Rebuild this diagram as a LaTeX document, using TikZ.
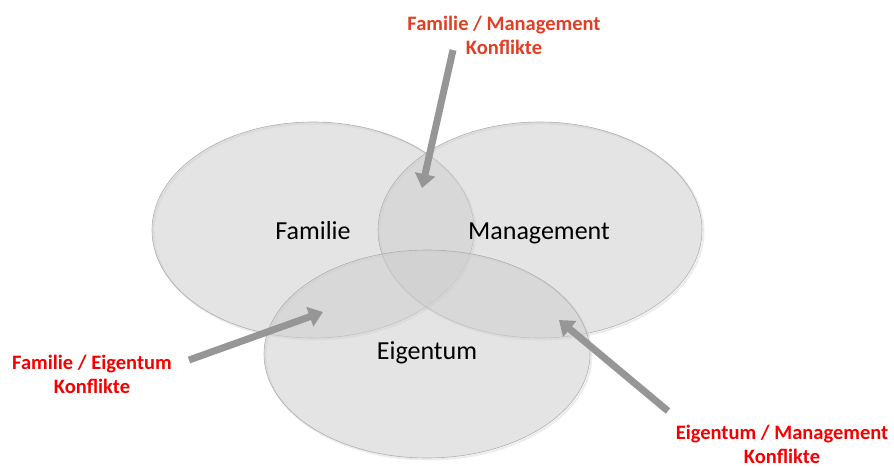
\documentclass[tikz,border=0pt]{standalone}
\usepackage{fontspec}
\setmainfont{Carlito}
\usetikzlibrary{shapes.geometric,arrows.meta}
\definecolor{circfill}{RGB}{206,206,206}
\definecolor{circedge}{RGB}{175,175,175}
\definecolor{arrowgray}{RGB}{150,150,150}
\definecolor{topred}{RGB}{226,62,36}
\definecolor{brightred}{RGB}{245,0,0}
\tikzset{
  setellipse/.style={ellipse, inner sep=0pt, fill=circfill, fill opacity=0.55, draw=circedge, line width=0.6pt},
  shadowellipse/.style={ellipse, inner sep=0pt, draw=gray, draw opacity=0.15, line width=2pt},
  setlabel/.style={font=\fontsize{26}{30}\selectfont, text=black},
  conflabel/.style={font=\fontsize{20.5}{24}\selectfont\bfseries, align=center, inner sep=0pt},
  bigarrow/.style={draw=arrowgray, line width=7pt, -{Triangle[length=14pt,width=20pt]}}
}
\begin{document}
\begin{tikzpicture}[x=1pt,y=-1pt]
\useasboundingbox (0,0) rectangle (894,466);
% shadows
\node[shadowellipse, minimum width=322, minimum height=216] (famS) at (314.5,231.5) {};
\node[shadowellipse, minimum width=324, minimum height=216] (manS) at (541.5,231.5) {};
\node[shadowellipse, minimum width=326, minimum height=208] (eigS) at (428.5,355.5) {};
% ellipses
\node[setellipse, minimum width=322, minimum height=216] (fam) at (313,230) {};
\node[setellipse, minimum width=324, minimum height=216] (man) at (540,230) {};
\node[setellipse, minimum width=326, minimum height=208] (eig) at (427,354) {};
% labels
\node[setlabel, anchor=base] (famT) at (313,239) {Familie};
\node[setlabel, anchor=base] (manT) at (539,239) {Management};
\node[setlabel, anchor=base] (eigT) at (427,359) {Eigentum};
% conflict labels
\node[conflabel, text=topred] (fm) at (504,35) {Familie / Management\\Konflikte};
\node[conflabel, text=brightred] (fe) at (92,374) {Familie / Eigentum\\Konflikte};
\node[conflabel, text=brightred] (em) at (782,444) {Eigentum / Management\\Konflikte};
% arrow endpoints
\coordinate (fmS) at (453,50);
\coordinate (fmE) at (422,188);
\coordinate (feS) at (189,360);
\coordinate (feE) at (323,312);
\coordinate (emS) at (668,411);
\coordinate (emE) at (559,320);
\draw[bigarrow] (fmS) -- (fmE);
\draw[bigarrow] (feS) -- (feE);
\draw[bigarrow] (emS) -- (emE);
\end{tikzpicture}
\end{document}
